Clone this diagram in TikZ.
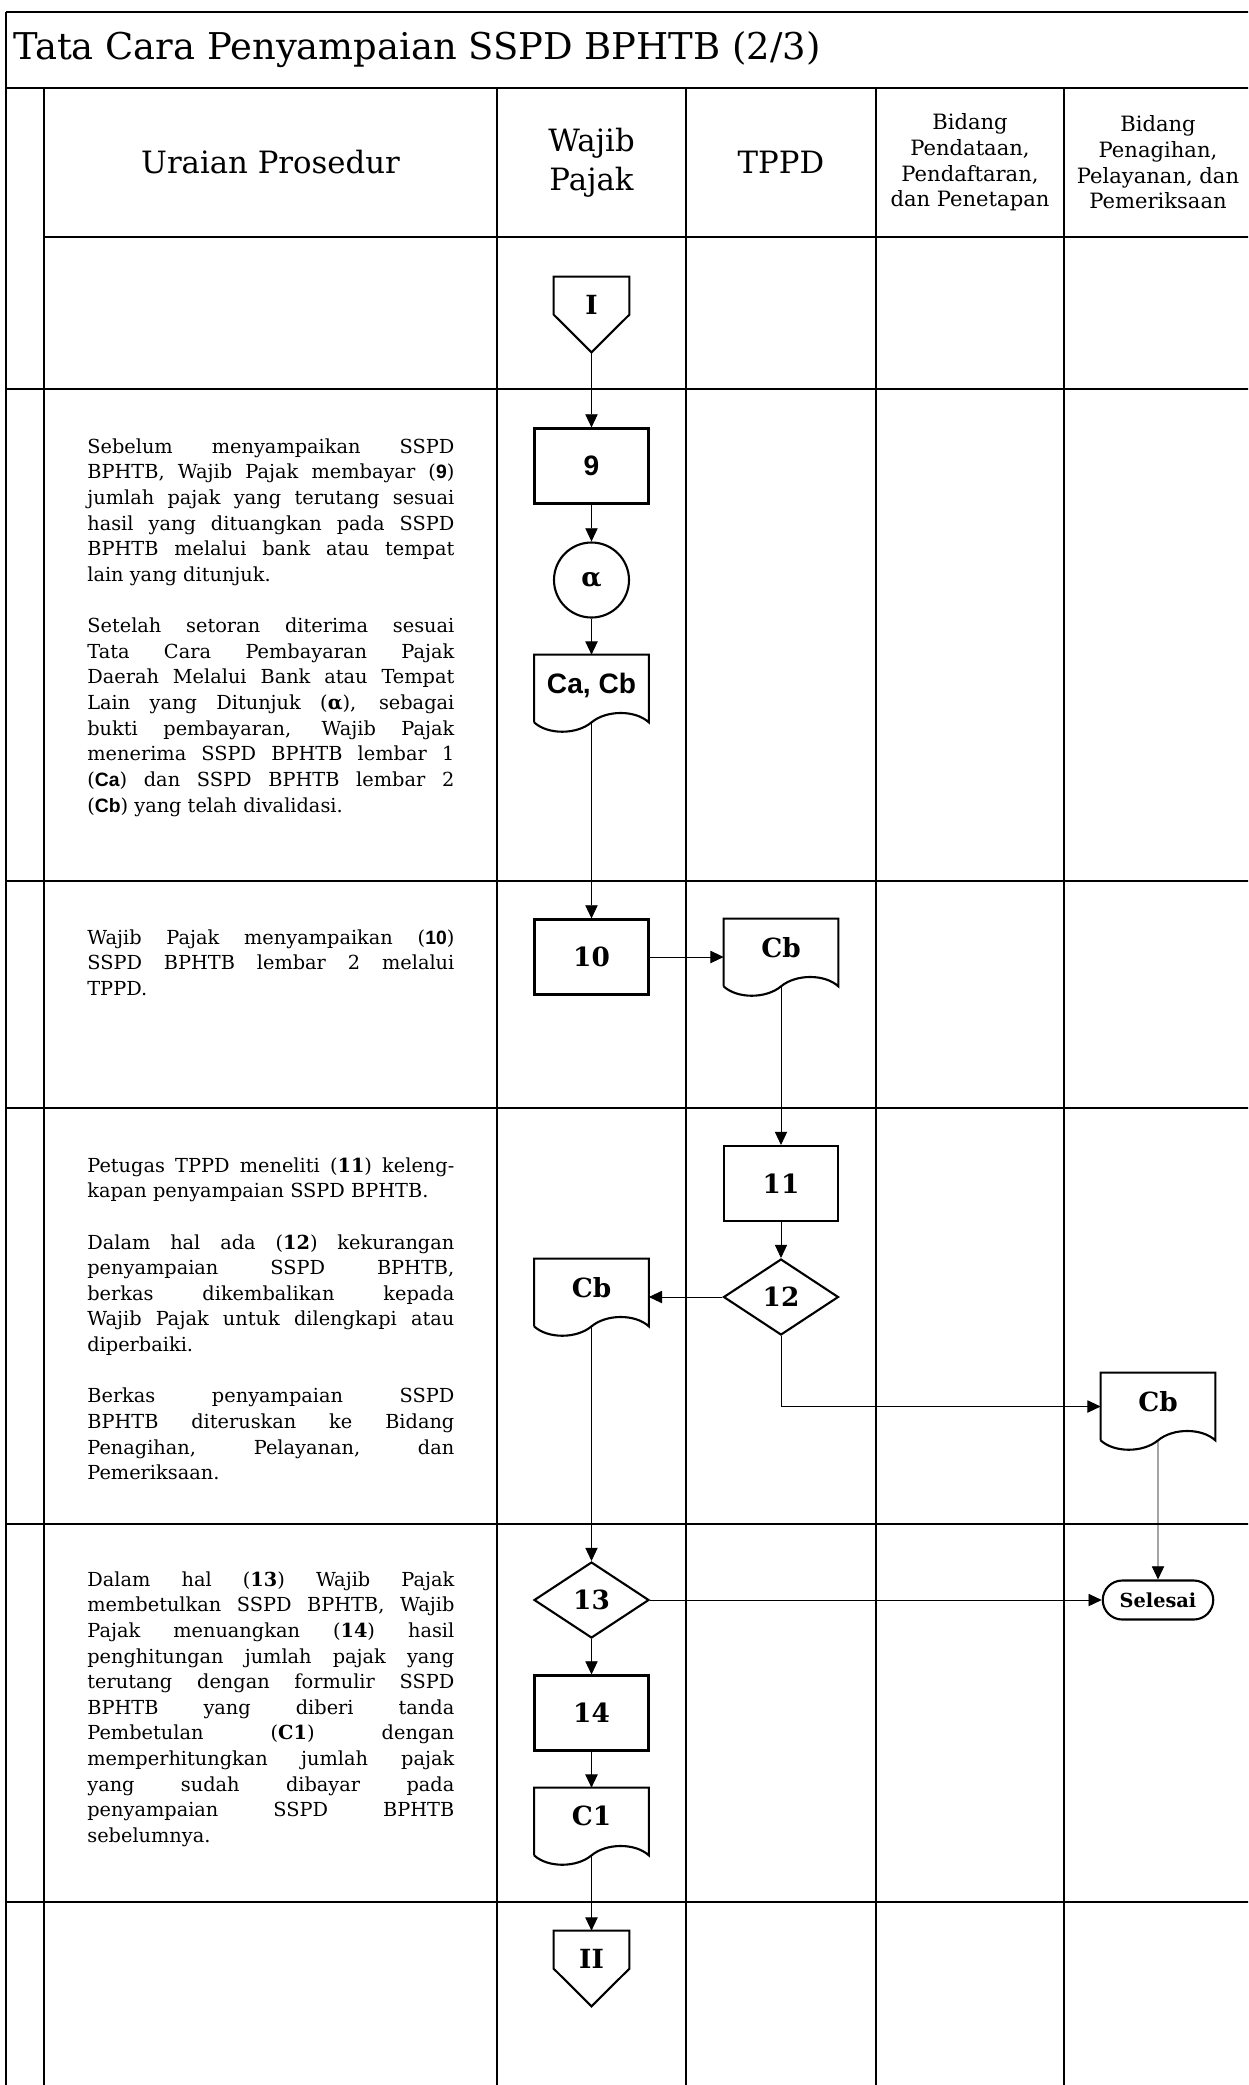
\documentclass[tikz,border=0pt]{standalone}
\usepackage{fontspec}
\setmainfont{DejaVu Serif}
\newfontfamily\sansnum{Liberation Sans}
\usepackage{tikz}
\usetikzlibrary{shapes.geometric, shapes.misc, arrows.meta, positioning, calc}
\setlength{\parindent}{0pt}
\newcommand{\sn}[1]{{\sansnum\bfseries #1}}
\newcommand{\gap}{\par\vspace{\baselineskip}}

\begin{document}
\begin{tikzpicture}[
    >={Triangle[length=7.5pt,width=7pt]},
    grid/.style={line width=1.1pt},
    process/.style={rectangle, draw, line width=1.2pt, minimum width=2.28cm,
                    minimum height=1.5cm, font=\fontsize{15}{18}\selectfont\bfseries},
    decision/.style={diamond, draw, line width=1.2pt, minimum width=2.3cm,
                     minimum height=1.52cm, inner sep=0pt, font=\fontsize{15}{18}\selectfont\bfseries},
    document/.style={rectangle, minimum width=2.28cm, minimum height=1.34cm,
                     text depth=0.22cm, font=\fontsize{15}{18}\selectfont\bfseries},
    offpage/.style={rectangle, minimum width=1.5cm, minimum height=1.5cm,
                    text depth=0.38cm, font=\fontsize{15}{18}\selectfont\bfseries},
    terminal/.style={rounded rectangle, draw, line width=1.2pt, minimum width=2.28cm,
                     minimum height=0.78cm, inner sep=1pt, font=\fontsize{11}{13}\selectfont\bfseries},
    prosedur/.style={anchor=north west, text width=7.34cm, align=justify, inner sep=0pt,
                     font=\fontsize{11}{14.6}\selectfont},
    lane/.style={align=center, inner sep=0pt, font=\fontsize{17.5}{22}\selectfont},
    smalllane/.style={align=center, inner sep=0pt, font=\fontsize{12}{14.6}\selectfont},
    flow/.style={->, line width=0.5pt}
]
\useasboundingbox (0,0) rectangle (24.96,-41.70);
\clip (0,0) rectangle (24.96,-41.70);

% table frame
\draw[grid] (0.12,-0.24) -- (25.04,-0.24);
\draw[grid] (0.12,-1.76) -- (25.04,-1.76);
\draw[grid] (0.88,-4.74) -- (25.04,-4.74);
\foreach \y in {-7.78,-17.62,-22.16,-30.48,-38.04} {
    \draw[grid] (0.12,\y) -- (25.04,\y);
}
\draw[grid] (0.12,-0.24) -- (0.12,-42);
\draw[grid] (0.88,-1.76) -- (0.88,-42);
\foreach \x in {9.94,13.72,17.52,21.28} {
    \draw[grid] (\x,-1.76) -- (\x,-42);
}

% headings
\node[anchor=west, inner sep=0pt, font=\fontsize{21}{25}\selectfont] (title) at (0.26,-1.0)
    {Tata Cara Penyampaian SSPD BPHTB (2/3)};
\node[lane] (hUraian) at (5.41,-3.25) {Uraian Prosedur};
\node[lane] (hWP) at (11.83,-3.25) {Wajib\\Pajak};
\node[lane] (hTPPD) at (15.62,-3.25) {TPPD};
\node[smalllane] (hPend) at (19.4,-3.25) {Bidang\\Pendataan,\\Pendaftaran,\\dan Penetapan};
\node[smalllane] (hPen) at (23.16,-3.25) {Bidang\\Penagihan,\\Pelayanan, dan\\Pemeriksaan};

% uraian prosedur
\node[prosedur] (tA) at (1.74,-8.76) {Sebelum menyampaikan SSPD\linebreak
    BPHTB, Wajib Pajak membayar (\sn{9})\linebreak
    jumlah pajak yang terutang sesuai\linebreak
    hasil yang dituangkan pada SSPD\linebreak
    BPHTB melalui bank atau tempat\linebreak
    lain yang ditunjuk.\gap
    Setelah setoran diterima sesuai\linebreak
    Tata Cara Pembayaran Pajak\linebreak
    Daerah Melalui Bank atau Tempat\linebreak
    Lain yang Ditunjuk (\textbf{α}), sebagai\linebreak
    bukti pembayaran, Wajib Pajak\linebreak
    menerima SSPD BPHTB lembar 1\linebreak
    (\sn{Ca}) dan SSPD BPHTB lembar 2\linebreak
    (\sn{Cb}) yang telah divalidasi.};
\node[prosedur] (tB) at (1.74,-18.58) {Wajib Pajak menyampaikan (\sn{10})\linebreak
    SSPD BPHTB lembar 2 melalui\linebreak
    TPPD.};
\node[prosedur] (tC) at (1.74,-23.14) {Petugas TPPD meneliti (\textbf{11}) keleng-\linebreak
    kapan penyampaian SSPD BPHTB.\gap
    Dalam hal ada (\textbf{12}) kekurangan\linebreak
    penyampaian SSPD BPHTB,\linebreak
    berkas dikembalikan kepada\linebreak
    Wajib Pajak untuk dilengkapi atau\linebreak
    diperbaiki.\gap
    Berkas penyampaian SSPD\linebreak
    BPHTB diteruskan ke Bidang\linebreak
    Penagihan, Pelayanan, dan\linebreak
    Pemeriksaan.};
\node[prosedur] (tD) at (1.74,-31.42) {Dalam hal (\textbf{13}) Wajib Pajak\linebreak
    membetulkan SSPD BPHTB, Wajib\linebreak
    Pajak menuangkan (\textbf{14}) hasil\linebreak
    penghitungan jumlah pajak yang\linebreak
    terutang dengan formulir SSPD\linebreak
    BPHTB yang diberi tanda\linebreak
    Pembetulan (\textbf{C1}) dengan\linebreak
    memperhitungkan jumlah pajak\linebreak
    yang sudah dibayar pada\linebreak
    penyampaian SSPD BPHTB\linebreak
    sebelumnya.};

% flow symbols
\node[offpage] (cI) at (11.83,-6.29) {I};
\node[process, font=\fontsize{16}{18}\selectfont\sansnum\bfseries] (p9) at (11.83,-9.32) {9};
\node[circle, draw, line width=1.2pt, minimum size=1.5cm, inner sep=0pt,
      font=\fontsize{15}{18}\selectfont\bfseries] (alpha) at (11.83,-11.6) {α};
\node[document, font=\fontsize{16}{18}\selectfont\sansnum\bfseries] (dCaCb) at (11.83,-13.77) {Ca, Cb};
\node[process] (p10) at (11.83,-19.14) {10};
\node[document] (dCb) at (15.62,-19.05) {Cb};
\node[process] (p11) at (15.62,-23.67) {11};
\node[decision] (q12) at (15.62,-25.94) {12};
\node[document] (dCbKembali) at (11.83,-25.85) {Cb};
\node[document] (dCbTerus) at (23.16,-28.13) {Cb};
\node[decision] (q13) at (11.83,-32.0) {13};
\node[terminal] (selesai) at (23.16,-32.0) {Selesai};
\node[process] (p14) at (11.83,-34.26) {14};
\node[document] (dC1) at (11.83,-36.43) {C1};
\node[offpage] (cII) at (11.83,-39.37) {II};

\foreach \d in {dCaCb,dCb,dCbKembali,dCbTerus,dC1} {
    \draw[line width=1.2pt] (\d.south west) -- (\d.north west) -- (\d.north east) -- (\d.south east)
        .. controls ($(\d.south east)+(-0.27,0.25)$) and ($(\d.south)+(0.3,0.25)$) .. (\d.south)
        .. controls ($(\d.south)+(-0.3,-0.25)$) and ($(\d.south west)+(0.27,-0.25)$) .. (\d.south west);
}
\foreach \c in {cI,cII} {
    \draw[line width=1.2pt] (\c.north west) -- (\c.north east) -- ($(\c.north east)+(0,-0.76)$)
        -- (\c.south) -- ($(\c.north west)+(0,-0.76)$) -- cycle;
}

% connectors
\draw[flow] (cI.south) -- (p9);
\draw[flow] (p9) -- (alpha);
\draw[flow] (alpha) -- (dCaCb.north);
\draw[flow] (dCaCb.south) -- (p10);
\draw[flow] (p10.east) -- (p10.east -| dCb.west);
\draw[flow] (dCb.south) -- (p11);
\draw[flow] (p11) -- (q12);
\draw[flow] (q12.west) -- (q12.west -| dCbKembali.east);
\draw[flow] (q12.south) |- (dCbTerus.west);
\draw[flow] (dCbKembali.south) -- (q13);
\draw[flow] (dCbTerus.south) -- (selesai);
\draw[flow] (q13) -- (selesai);
\draw[flow] (q13) -- (p14);
\draw[flow] (p14) -- (dC1.north);
\draw[flow] (dC1.south) -- (cII.north);
\end{tikzpicture}
\end{document}
